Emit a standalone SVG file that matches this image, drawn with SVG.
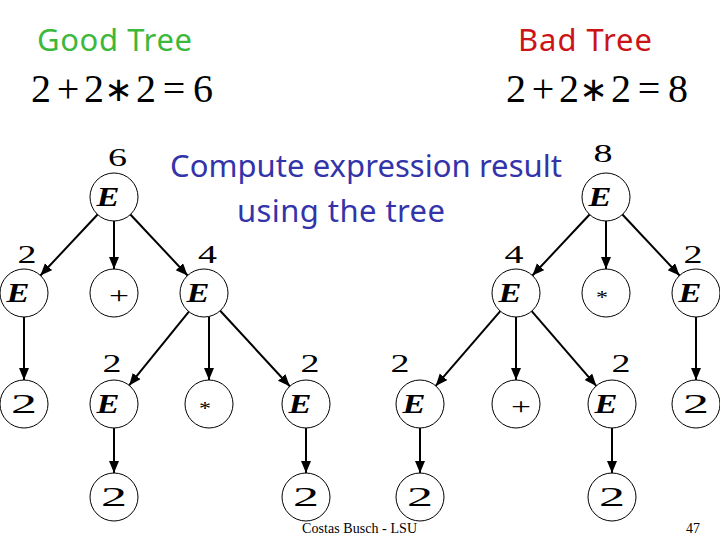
<svg xmlns="http://www.w3.org/2000/svg" width="720" height="540" viewBox="0 0 720 540">
<style>
.node{fill:#fff;stroke:#000;stroke-width:1}
.s{font-family:'Liberation Serif',serif;text-anchor:middle}
.E{font-style:italic;font-weight:bold;font-size:27px}
.n{font-size:27px}
.lab{font-size:26px}
.plus{font-size:24px}
.star{font-size:18px}
.eq{font-size:40px}
.ast{font-family:'DejaVu Sans',sans-serif;font-size:34px;text-anchor:middle}
.title{font-family:'Noto Sans',sans-serif;font-size:31px}
.conn line{stroke:#000;stroke-width:2;marker-end:url(#ah)}
</style>
<defs>
<marker id="ah" markerUnits="userSpaceOnUse" markerWidth="13" markerHeight="11" refX="12" refY="5" orient="auto" viewBox="0 0 13 11">
<path d="M0,0 L12,5 L0,10 z" fill="#000"/>
</marker>
</defs>
<rect width="720" height="540" fill="#fff"/>
<text class="title" x="37" y="51" fill="#3cb83c" textLength="155">Good Tree</text>
<text class="title" x="518" y="51" fill="#cc1418" textLength="134">Bad Tree</text>
<text class="title" x="170" y="177" fill="#3333aa" textLength="392">Compute expression result</text>
<text class="title" x="237" y="222" fill="#3333aa" textLength="208">using the tree</text>

<text class="s eq" x="41 68 94" y="102">2+2</text>
<text class="s eq" x="146 174 203" y="102">2=6</text>
<text class="ast" x="118.5" y="101">∗</text>
<text class="s eq" x="516 543 569" y="102">2+2</text>
<text class="s eq" x="621 649 678" y="102">2=8</text>
<text class="ast" x="593.5" y="101">∗</text>

<g id="connectors" class="conn">
<line x1="97.6" y1="214.5" x2="40.4" y2="275.5"/>
<line x1="114" y1="221" x2="114" y2="269"/>
<line x1="130.4" y1="214.5" x2="187.6" y2="275.5"/>
<line x1="24" y1="317" x2="24" y2="380"/>
<line x1="188.9" y1="311.6" x2="129.1" y2="385.4"/>
<line x1="209" y1="316.5" x2="209" y2="380"/>
<line x1="220.2" y1="310.7" x2="289.8" y2="386.3"/>
<line x1="114" y1="428" x2="114" y2="473"/>
<line x1="306" y1="428" x2="306" y2="473"/>
<line x1="589.6" y1="214.5" x2="532.4" y2="275.5"/>
<line x1="606" y1="221" x2="606" y2="269"/>
<line x1="622.4" y1="214.5" x2="679.6" y2="275.5"/>
<line x1="500.3" y1="311.1" x2="435.7" y2="385.9"/>
<line x1="516" y1="317" x2="516" y2="380"/>
<line x1="531.7" y1="311.1" x2="596.3" y2="385.9"/>
<line x1="696" y1="317" x2="696" y2="380"/>
<line x1="420" y1="428" x2="420" y2="473"/>
<line x1="612" y1="428" x2="612" y2="473"/>
</g>

<!-- Good tree -->
<g id="g-root"><circle class="node" cx="114" cy="197" r="24"/><text class="s E" x="108" y="206" textLength="23" lengthAdjust="spacingAndGlyphs">E</text><text class="s lab" x="117.5" y="166" textLength="19" lengthAdjust="spacingAndGlyphs">6</text></g>
<g id="g-e1"><circle class="node" cx="24" cy="293" r="24"/><text class="s E" x="18" y="302" textLength="23" lengthAdjust="spacingAndGlyphs">E</text><text class="s lab" x="27" y="263" textLength="19" lengthAdjust="spacingAndGlyphs">2</text></g>
<g id="g-plus"><circle class="node" cx="114" cy="293" r="24"/><text class="s plus" x="119" y="303" textLength="20" lengthAdjust="spacingAndGlyphs">+</text></g>
<g id="g-e2"><circle class="node" cx="204" cy="293" r="24"/><text class="s E" x="198" y="302" textLength="23" lengthAdjust="spacingAndGlyphs">E</text><text class="s lab" x="207.5" y="263" textLength="19" lengthAdjust="spacingAndGlyphs">4</text></g>
<g id="g-l1"><circle class="node" cx="24" cy="404" r="24"/><text class="s n" x="24" y="413" textLength="26" lengthAdjust="spacingAndGlyphs">2</text></g>
<g id="g-e3"><circle class="node" cx="114" cy="404" r="24"/><text class="s E" x="108" y="413" textLength="23" lengthAdjust="spacingAndGlyphs">E</text><text class="s lab" x="112" y="372" textLength="19" lengthAdjust="spacingAndGlyphs">2</text></g>
<g id="g-star"><circle class="node" cx="209" cy="404" r="24"/><text class="s star" x="205" y="415" textLength="12" lengthAdjust="spacingAndGlyphs">*</text></g>
<g id="g-e4"><circle class="node" cx="306" cy="404" r="24"/><text class="s E" x="300" y="413" textLength="23" lengthAdjust="spacingAndGlyphs">E</text><text class="s lab" x="310" y="372" textLength="19" lengthAdjust="spacingAndGlyphs">2</text></g>
<g id="g-l2"><circle class="node" cx="114" cy="497" r="24"/><text class="s n" x="114" y="506" textLength="26" lengthAdjust="spacingAndGlyphs">2</text></g>
<g id="g-l3"><circle class="node" cx="306" cy="497" r="24"/><text class="s n" x="306" y="506" textLength="26" lengthAdjust="spacingAndGlyphs">2</text></g>

<!-- Bad tree -->
<g id="b-root"><circle class="node" cx="606" cy="197" r="24"/><text class="s E" x="600" y="206" textLength="23" lengthAdjust="spacingAndGlyphs">E</text><text class="s lab" x="603" y="162" textLength="19" lengthAdjust="spacingAndGlyphs">8</text></g>
<g id="b-e1"><circle class="node" cx="516" cy="293" r="24"/><text class="s E" x="510" y="302" textLength="23" lengthAdjust="spacingAndGlyphs">E</text><text class="s lab" x="514" y="263" textLength="19" lengthAdjust="spacingAndGlyphs">4</text></g>
<g id="b-star"><circle class="node" cx="606" cy="293" r="24"/><text class="s star" x="602" y="304" textLength="12" lengthAdjust="spacingAndGlyphs">*</text></g>
<g id="b-e2"><circle class="node" cx="696" cy="293" r="24"/><text class="s E" x="690" y="302" textLength="23" lengthAdjust="spacingAndGlyphs">E</text><text class="s lab" x="693" y="263" textLength="19" lengthAdjust="spacingAndGlyphs">2</text></g>
<g id="b-e3"><circle class="node" cx="420" cy="404" r="24"/><text class="s E" x="414" y="413" textLength="23" lengthAdjust="spacingAndGlyphs">E</text><text class="s lab" x="400" y="372" textLength="19" lengthAdjust="spacingAndGlyphs">2</text></g>
<g id="b-plus"><circle class="node" cx="516" cy="404" r="24"/><text class="s plus" x="521" y="414" textLength="20" lengthAdjust="spacingAndGlyphs">+</text></g>
<g id="b-e4"><circle class="node" cx="612" cy="404" r="24"/><text class="s E" x="606" y="413" textLength="23" lengthAdjust="spacingAndGlyphs">E</text><text class="s lab" x="621" y="372" textLength="19" lengthAdjust="spacingAndGlyphs">2</text></g>
<g id="b-l1"><circle class="node" cx="696" cy="404" r="24"/><text class="s n" x="696" y="413" textLength="26" lengthAdjust="spacingAndGlyphs">2</text></g>
<g id="b-l2"><circle class="node" cx="420" cy="497" r="24"/><text class="s n" x="420" y="506" textLength="26" lengthAdjust="spacingAndGlyphs">2</text></g>
<g id="b-l3"><circle class="node" cx="612" cy="497" r="24"/><text class="s n" x="612" y="506" textLength="26" lengthAdjust="spacingAndGlyphs">2</text></g>

<text font-family="Liberation Serif, serif" x="302" y="533" font-size="14" textLength="115">Costas Busch - LSU</text>
<text font-family="Liberation Serif, serif" x="686" y="533" font-size="14">47</text>
</svg>
